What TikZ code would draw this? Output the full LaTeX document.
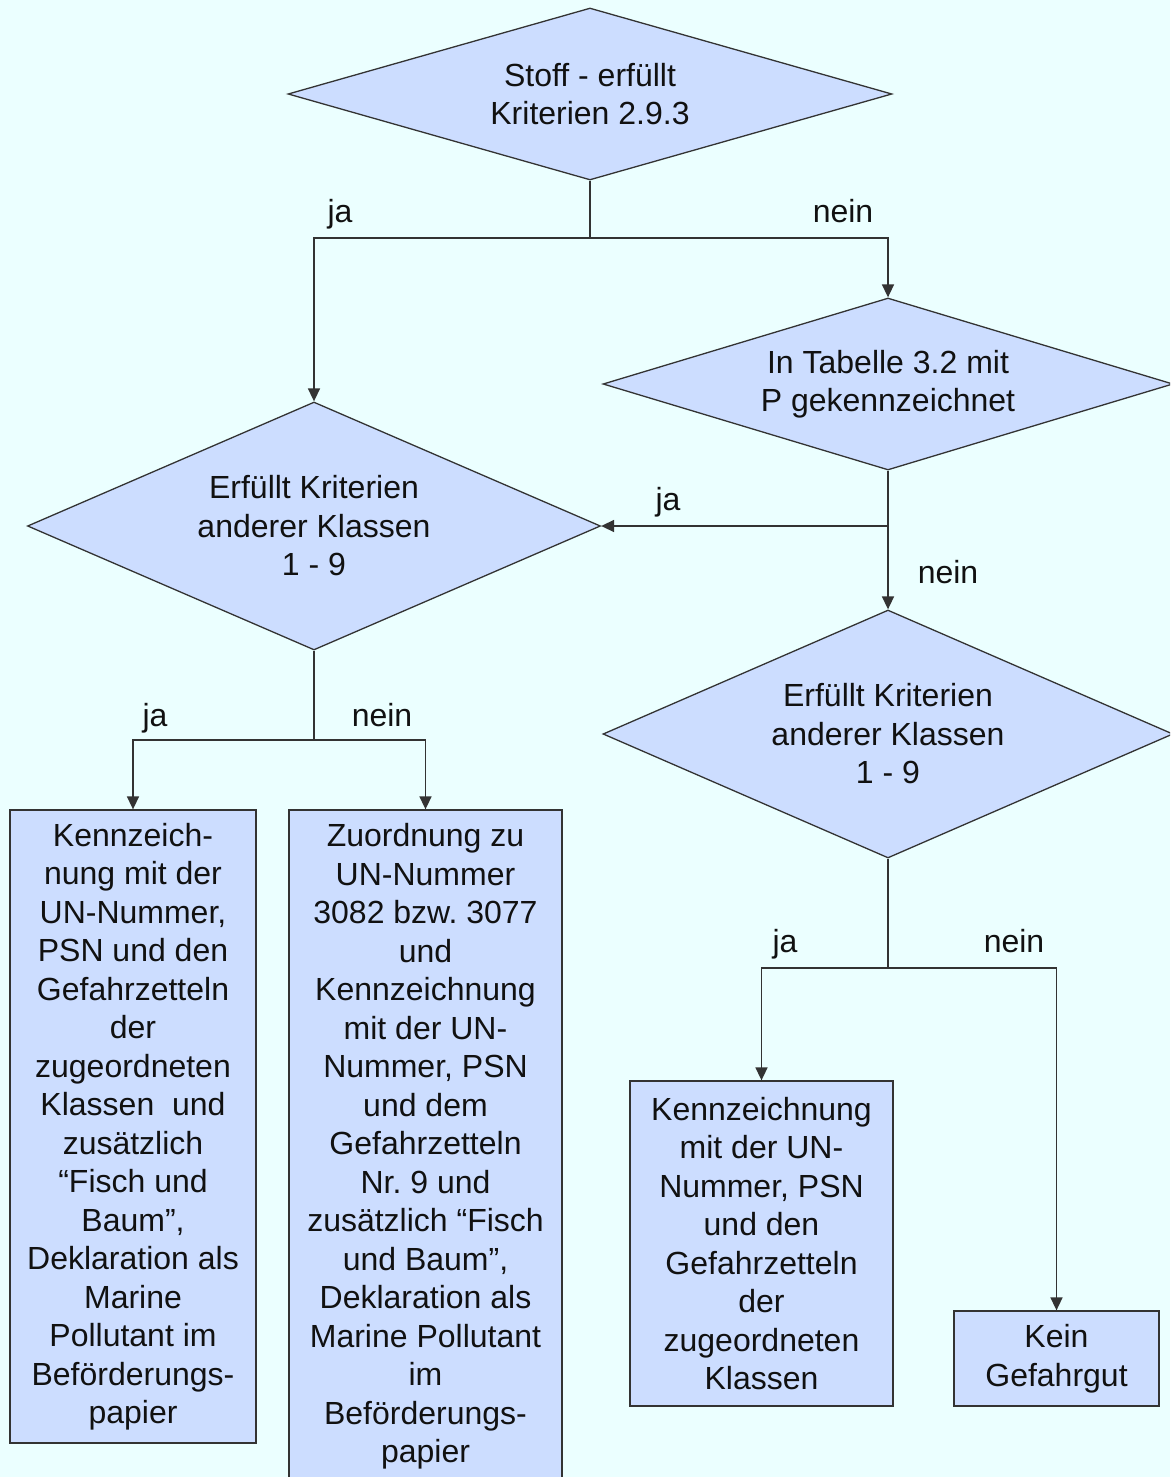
\documentclass[tikz,border=0pt]{standalone}
\usepackage{fontspec}
\setmainfont{Liberation Sans}
\usetikzlibrary{shapes.geometric,arrows.meta}
\definecolor{bgc}{HTML}{EBFFFF}
\definecolor{boxfill}{HTML}{CCDDFF}
\definecolor{linec}{HTML}{333333}
\definecolor{txtc}{HTML}{111111}
\frenchspacing
\begin{document}
\begin{tikzpicture}[x=1pt,y=-1pt,
  every node/.style={font=\fontsize{32}{38.5}\selectfont\frenchspacing, text=txtc},
  dia/.style={diamond, draw=linec, line width=1.3pt, fill=boxfill, inner sep=0pt, align=center},
  boxnode/.style={rectangle, draw=linec, line width=1.3pt, fill=boxfill, inner sep=0pt, align=center},
  lbl/.style={anchor=base},
  arr/.style={draw=linec, line width=1.6pt, -{Triangle[length=13pt,width=12pt]}},
  conn/.style={draw=linec, line width=1.6pt}]
\useasboundingbox (0,0) rectangle (1170,1477);
\clip (0,0) rectangle (1170,1477);
\fill[bgc] (0,0) rectangle (1170,1477);

% decisions
\node[dia, minimum width=604pt, minimum height=172pt, aspect=3.5] (d1) at (590,94) {Stoff - erfüllt\\Kriterien 2.9.3};
\node[dia, minimum width=570pt, minimum height=172pt, aspect=3.3] (d3) at (888,384) {In Tabelle 3.2 mit\\P gekennzeichnet};
\node[dia, minimum width=573pt, minimum height=248pt, aspect=2.3] (d2) at (314,526) {Erfüllt Kriterien\\anderer Klassen\\1 - 9};
\node[dia, minimum width=570pt, minimum height=248pt, aspect=2.3] (d4) at (888,734) {Erfüllt Kriterien\\anderer Klassen\\1 - 9};

% boxes
\node[boxnode, minimum width=246pt, minimum height=633pt] (bA) at (133,1126.5) {Kennzeich-\\nung mit der\\UN-Nummer,\\PSN und den\\Gefahrzetteln\\der\\zugeordneten\\Klassen\ \ und\\zusätzlich\\“Fisch und\\Baum”,\\Deklaration als\\Marine\\Pollutant im\\Beförderungs-\\papier};
\node[boxnode, minimum width=273pt, minimum height=673pt] (bB) at (425.5,1146.5) {Zuordnung zu\\UN-Nummer\\3082 bzw. 3077\\und\\Kennzeichnung\\mit der UN-\\Nummer, PSN\\und dem\\Gefahrzetteln\\Nr. 9 und\\zusätzlich “Fisch\\und Baum”,\\Deklaration als\\Marine Pollutant\\im\\Beförderungs-\\papier};
\node[boxnode, minimum width=263pt, minimum height=325pt] (bC) at (761.5,1243.5) {Kennzeichnung\\mit der UN-\\Nummer, PSN\\und den\\Gefahrzetteln\\der\\zugeordneten\\Klassen};
\node[boxnode, minimum width=205pt, minimum height=95pt] (bD) at (1056.5,1358.5) {Kein\\Gefahrgut};

% junctions
\coordinate (j1) at (590,238);
\coordinate (j2) at (888,526);
\coordinate (j3) at (314,740);
\coordinate (j4) at (888,968);

% connectors
\draw[conn] (d1.south) -- (j1);
\draw[arr] (j1) -| (d2.north);
\draw[arr] (j1) -| (d3.north);
\draw[arr] (d3.south) -- (d4.north);
\draw[arr] (j2) -- (d2.east);
\draw[conn] (d2.south) -- (j3);
\draw[arr] (j3) -| (bA.north);
\draw[arr] (j3) -| (bB.north);
\draw[conn] (d4.south) -- (j4);
\draw[arr] (j4) -| (bC.north);
\draw[arr] (j4) -| (bD.north);

% labels
\node[lbl] (l1) at (340,222) {ja};
\node[lbl] (l2) at (843,222) {nein};
\node[lbl] (l3) at (668,510) {ja};
\node[lbl] (l4) at (948,583) {nein};
\node[lbl] (l5) at (155,726) {ja};
\node[lbl] (l6) at (382,726) {nein};
\node[lbl] (l7) at (785,952) {ja};
\node[lbl] (l8) at (1014,952) {nein};
\end{tikzpicture}
\end{document}
